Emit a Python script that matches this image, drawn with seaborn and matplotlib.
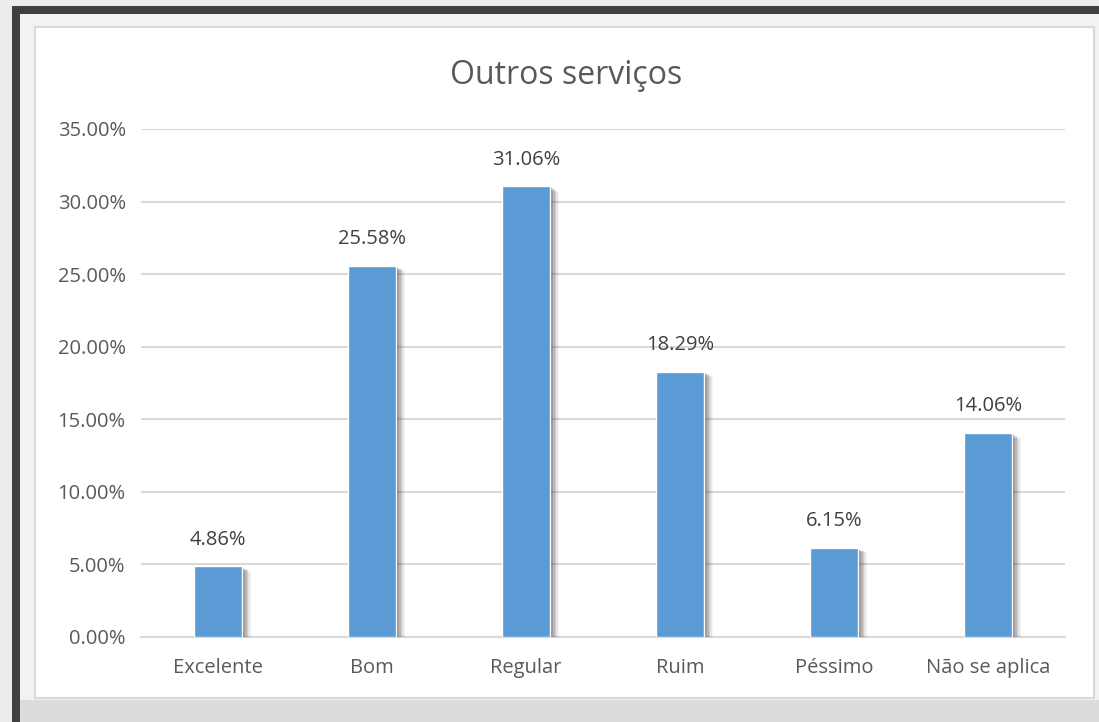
import matplotlib
matplotlib.use("Agg")
import matplotlib.pyplot as plt
import matplotlib.patheffects as pe
from matplotlib.patches import Rectangle
from matplotlib.ticker import FuncFormatter
import seaborn as sns
import pandas as pd

# data
categories = ["Excelente", "Bom", "Regular", "Ruim", "Péssimo", "Não se aplica"]
values = [4.86, 25.58, 31.06, 18.29, 6.15, 14.06]
yticks = [0, 5, 10, 15, 20, 25, 30, 35]
title = "Outros serviços"

df = pd.DataFrame({"cat": categories, "val": values})

sns.set_style("white")
plt.rcParams["font.family"] = ["Open Sans", "DejaVu Sans"]

W, H = 1099, 722
fig = plt.figure(figsize=(W / 100, H / 100), dpi=100)
fig.patch.set_facecolor("#ececec")

# frame around the chart (dark border, grey margin, white chart area)
def px_rect(x0, y0, x1, y1, **kw):
    r = Rectangle((x0 / W, 1 - y1 / H), (x1 - x0) / W, (y1 - y0) / H,
                  transform=fig.transFigure, zorder=-5, **kw)
    fig.patches.append(r)

px_rect(12, 6, W, 14, facecolor="#404040", edgecolor="none")
px_rect(12, 6, 20, H, facecolor="#404040", edgecolor="none")
px_rect(20, 14, W, H, facecolor="#f2f2f2", edgecolor="none")
px_rect(20, 700, W, H, facecolor="#dcdcdc", edgecolor="none")
px_rect(35, 27, 1094, 698, facecolor="white", edgecolor="#d9d9d9", linewidth=1.5)

ax = fig.add_axes([141 / W, 85 / H, 924 / W, 508 / H])
ax.set_facecolor("none")
ax.set_zorder(3)

sns.barplot(data=df, x="cat", y="val", color="#5b9bd5", width=0.31,
            saturation=1, ax=ax, zorder=3)

# soft drop shadow, built from a few faint offset copies
shadow = [pe.SimplePatchShadow(offset=(o, -o * 0.6), shadow_rgbFace="#333333", alpha=a)
          for o, a in ((1.5, 0.2), (2.5, 0.18), (3.5, 0.15), (4.5, 0.12), (5.5, 0.08), (6.5, 0.05))]
for bar in ax.patches:
    bar.set_path_effects(shadow + [pe.Normal()])

for bar, v in zip(ax.patches, values):
    ax.annotate(f"{v:.2f}%", (bar.get_x() + bar.get_width() / 2, bar.get_height()),
                xytext=(0, 12), textcoords="offset points", ha="center", va="bottom",
                fontsize=14.5, color="#404040")

ax.set_ylim(0, 35)
ax.set_yticks(yticks)
ax.yaxis.set_major_formatter(FuncFormatter(lambda v, p: f"{v:.2f}%"))
ax.grid(axis="y", color="#d9d9d9", linewidth=1.5, zorder=0)
ax.set_axisbelow(True)
for s in ["top", "right", "left"]:
    ax.spines[s].set_visible(False)
ax.spines["bottom"].set_color("#d9d9d9")
ax.spines["bottom"].set_linewidth(1.5)
ax.tick_params(axis="both", length=0, labelsize=14.5, labelcolor="#595959")
ax.tick_params(axis="y", pad=11)
ax.tick_params(axis="x", pad=15)
ax.set_xlabel("")
ax.set_ylabel("")
ax.set_xlim(-0.5, 5.5)

fig.text(566 / W, 1 - 75 / H, title, ha="center", va="center", fontsize=23, color="#595959")

fig.savefig("out.png", dpi=100, facecolor=fig.get_facecolor())
